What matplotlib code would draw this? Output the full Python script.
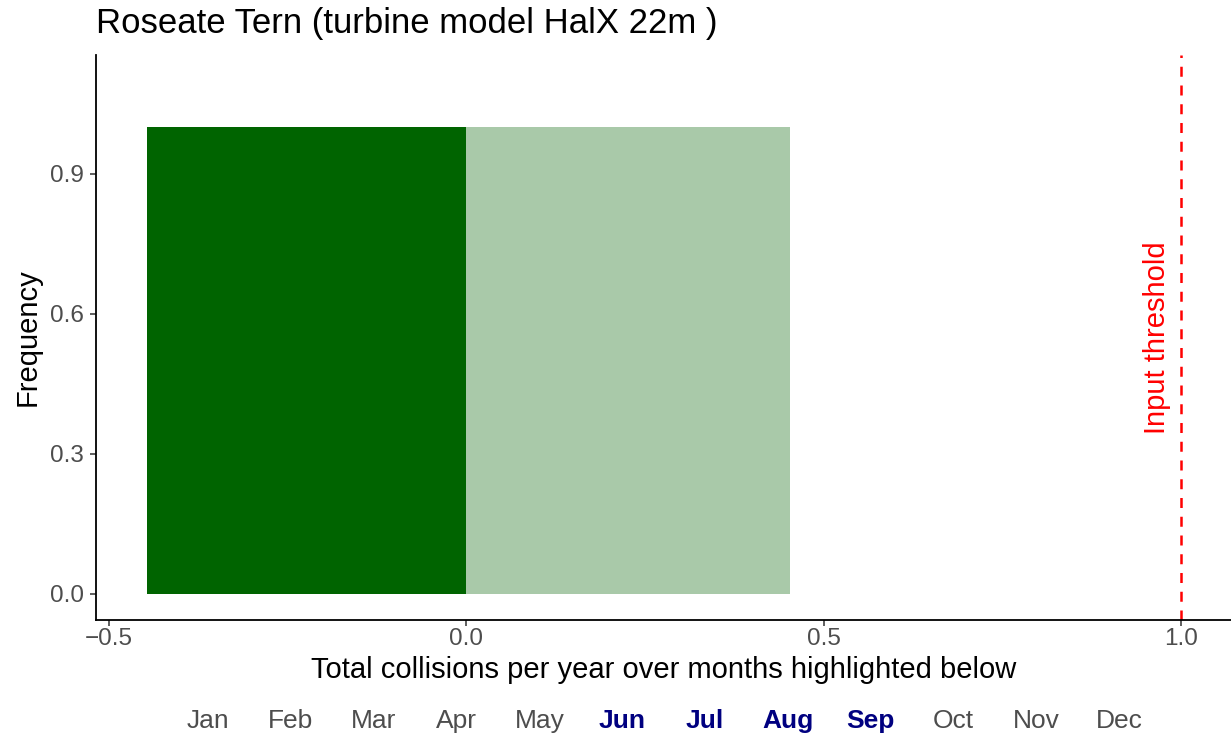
import matplotlib
matplotlib.use("Agg")
import matplotlib.pyplot as plt

plt.rcParams["font.family"] = ["Liberation Sans", "DejaVu Sans"]

# data
bin_left = [-0.447, 0.0]
bin_width = [0.447, 0.453]
freq = [1.0, 1.0]
bin_colors = ["#006400", "#A9C9A9"]
threshold = 1.0
months = ["Jan", "Feb", "Mar", "Apr", "May", "Jun", "Jul", "Aug", "Sep", "Oct", "Nov", "Dec"]
highlighted = ["Jun", "Jul", "Aug", "Sep"]
x_ticks = [-0.5, 0.0, 0.5, 1.0]
y_ticks = [0.0, 0.3, 0.6, 0.9]

fig = plt.figure(figsize=(12.31, 7.38), dpi=100)
ax = fig.add_axes([0.078, 0.160, 0.922, 0.7655])

ax.bar(bin_left, freq, width=bin_width, align="edge", color=bin_colors, linewidth=0)
ax.axvline(threshold, color="red", linestyle=(0, (4, 3.5)), linewidth=1.8)
ax.text(threshold - 0.033, 0.55, "Input threshold", rotation=90, color="red",
        fontsize=21, ha="center", va="center")

ax.set_xlim(-0.518, 1.07)
ax.set_ylim(-0.056, 1.155)
ax.set_xticks(x_ticks)
ax.set_xticklabels(["\u22120.5", "0.0", "0.5", "1.0"])
ax.set_yticks(y_ticks)
ax.set_yticklabels([f"{v:.1f}" for v in y_ticks])
ax.tick_params(colors="#333333", labelcolor="#4D4D4D", labelsize=17.5, length=4, width=1.1)
ax.tick_params(axis="x", pad=2)
ax.tick_params(axis="y", pad=5)
for s in ["top", "right"]:
    ax.spines[s].set_visible(False)
for s in ["left", "bottom"]:
    ax.spines[s].set_linewidth(1.3)
    ax.spines[s].set_color("black")

ax.set_xlabel("Total collisions per year over months highlighted below", fontsize=21, labelpad=4)
ax.set_ylabel("Frequency", fontsize=21, labelpad=6)
fig.text(0.078, 0.968, "Roseate Tern (turbine model HalX 22m )", fontsize=25, ha="left", va="center")

# month strip under the axis
for i, m in enumerate(months):
    hl = m in highlighted
    fig.text(0.169 + i * 0.0673, 1 - 721 / 738, m, ha="center", va="center", fontsize=19,
             color="#000080" if hl else "#4D4D4D", fontweight="bold" if hl else "normal")

fig.savefig("out.png", dpi=100, facecolor="white")
